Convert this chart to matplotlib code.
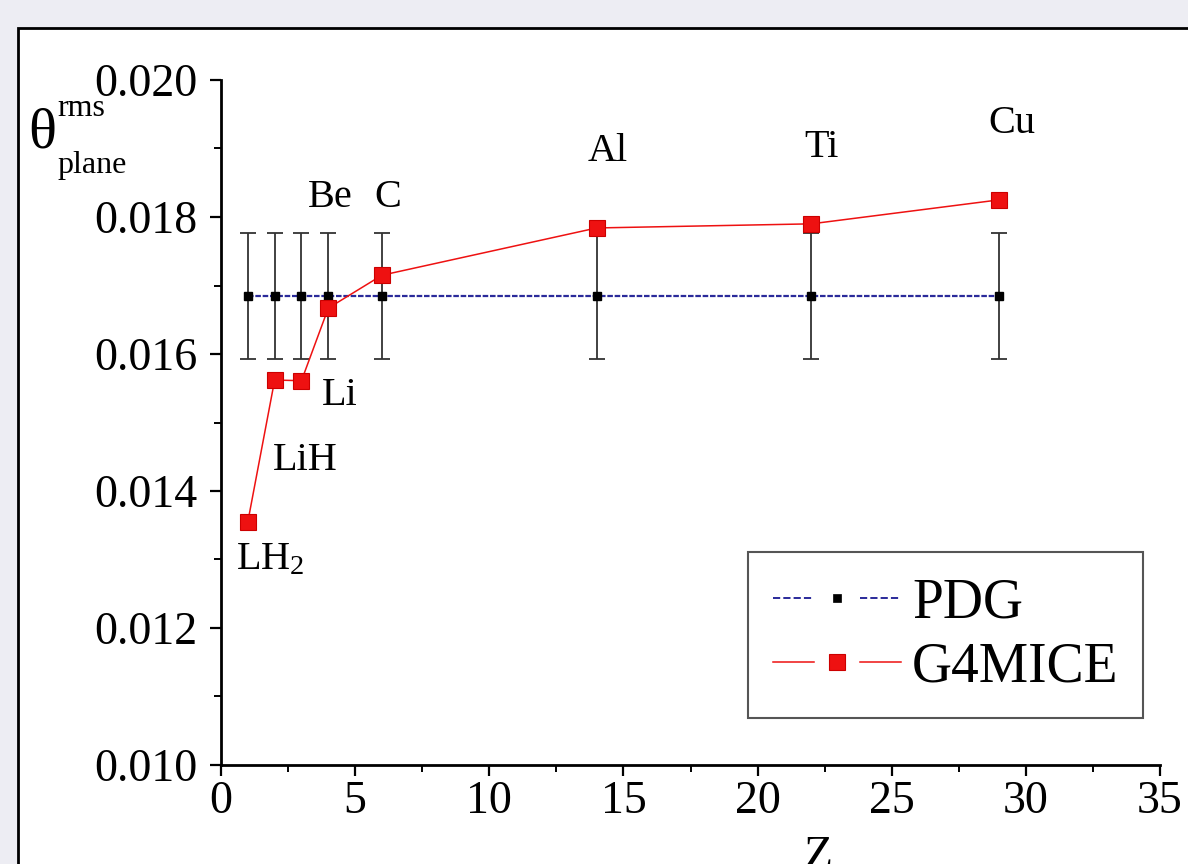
import numpy as np
import matplotlib
matplotlib.use("Agg")
import matplotlib.pyplot as plt
from matplotlib.lines import Line2D
from matplotlib.patches import Rectangle
from matplotlib.ticker import MultipleLocator, FormatStrFormatter
from matplotlib.legend_handler import HandlerBase

# ---------- DATA ----------
z_values = [1, 2, 3, 4, 6, 14, 22, 29]
materials = ["LH$_2$", "LiH", "Li", "Be", "C", "Al", "Ti", "Cu"]
pdg_theta = [0.01685] * 8
pdg_err = [0.00092] * 8
g4mice_theta = [0.01355, 0.01562, 0.01561, 0.01667, 0.01715, 0.01784, 0.01790, 0.01825]

# label anchor positions (data coords) for the material names
label_x = [1.83, 3.13, 4.44, 4.06, 6.22, 14.42, 22.4, 29.48]
label_y = [0.01299, 0.01445, 0.01540, 0.01829, 0.01829, 0.01895, 0.01902, 0.01937]

# ---------- STYLE ----------
plt.rcParams["font.family"] = ["Liberation Serif", "DejaVu Serif"]
plt.rcParams["mathtext.fontset"] = "custom"
plt.rcParams["mathtext.rm"] = "Liberation Serif"
plt.rcParams["mathtext.it"] = "Liberation Serif:italic"
plt.rcParams["mathtext.default"] = "regular"

BG = "#ededf3"
RED = "#ee1111"
BLUE = "#2a2a9a"


class GapLineHandler(HandlerBase):
    # Origin-style legend key: line segment, marker, line segment
    def create_artists(self, legend, orig_handle, xdescent, ydescent,
                       width, height, fontsize, trans):
        x0 = -xdescent
        x1 = x0 + width
        y = height / 2 - ydescent
        seg = 0.32 * width
        kw = dict(color=orig_handle.get_color(), lw=orig_handle.get_linewidth(),
                  linestyle=orig_handle.get_linestyle(), transform=trans)
        left = Line2D([x0, x0 + seg], [y, y], **kw)
        right = Line2D([x1 - seg, x1], [y, y], **kw)
        mark = Line2D([(x0 + x1) / 2], [y], linestyle="none",
                      marker=orig_handle.get_marker(),
                      ms=orig_handle.get_markersize(),
                      mfc=orig_handle.get_markerfacecolor(),
                      mec=orig_handle.get_markeredgecolor(),
                      mew=orig_handle.get_markeredgewidth(), transform=trans)
        return [left, right, mark]


fig = plt.figure(figsize=(11.88, 8.64), dpi=100, facecolor=BG)

# white panel with black border (runs off the right/bottom edge)
panel = Rectangle((18 / 1188, -0.1), 1.2, 1.1 - 28 / 864,
                  transform=fig.transFigure, facecolor="white",
                  edgecolor="black", linewidth=2, zorder=-5)
fig.patches.append(panel)

ax = fig.add_axes([221 / 1188, 1 - 765 / 864, (1160 - 221) / 1188, (765 - 80) / 864])
ax.set_facecolor("white")
ax.patch.set_alpha(0)

# PDG with error bars
ax.errorbar(z_values, pdg_theta, yerr=pdg_err, fmt="none", ecolor="#333333",
            elinewidth=1.3, capsize=5.5, capthick=1.3, zorder=2)
ax.plot(z_values, pdg_theta, color=BLUE, lw=1.6, linestyle=(0, (2.5, 0.8)), zorder=3)
ax.plot(z_values, pdg_theta, linestyle="none", marker="s", ms=5.5,
        color="black", zorder=4)

# G4MICE
ax.plot(z_values, g4mice_theta, color=RED, lw=1.1, zorder=5)
ax.plot(z_values, g4mice_theta, linestyle="none", marker="s", ms=11.5,
        mfc=RED, mec="#cc0000", mew=0.8, zorder=6)

for name, lx, ly in zip(materials, label_x, label_y):
    ax.text(lx, ly, name, fontsize=29, ha="center", va="center", zorder=7)

# axes formatting
ax.set_xlim(0, 35)
ax.set_ylim(0.010, 0.020)
ax.xaxis.set_major_locator(MultipleLocator(5))
ax.xaxis.set_minor_locator(MultipleLocator(2.5))
ax.yaxis.set_major_locator(MultipleLocator(0.002))
ax.yaxis.set_minor_locator(MultipleLocator(0.001))
ax.yaxis.set_major_formatter(FormatStrFormatter("%.3f"))

for side in ["top", "right"]:
    ax.spines[side].set_visible(False)
for side in ["left", "bottom"]:
    ax.spines[side].set_linewidth(2)

ax.tick_params(which="major", direction="out", length=8, width=1.6, labelsize=33)
ax.tick_params(which="minor", direction="out", length=5, width=1.4)
ax.tick_params(axis="y", which="major", pad=9)
ax.tick_params(axis="x", which="major", pad=3)

# y label: theta with rms / plane
fig.text(42 / 1188, 1 - 133 / 864, "\u03b8", fontsize=42, ha="center", va="center")
fig.text(57 / 1188, 1 - 108 / 864, "rms", fontsize=23, ha="left", va="center")
fig.text(57 / 1188, 1 - 165 / 864, "plane", fontsize=23, ha="left", va="center")

# x label (partly cut off at the bottom)
fig.text(818 / 1188, 1 - 836 / 864, "Z", fontsize=34, ha="center", va="top")

# legend
pdg_key = Line2D([], [], color=BLUE, lw=1.4, linestyle=(0, (2.2, 0.8)),
                 marker="s", ms=6, mfc="black", mec="black", mew=0.5)
g4_key = Line2D([], [], color=RED, lw=1.1, linestyle="-",
                marker="s", ms=12, mfc=RED, mec="#cc0000", mew=0.8)

leg = fig.legend([pdg_key, g4_key], ["PDG", "G4MICE"],
                 handler_map={Line2D: GapLineHandler()},
                 loc="upper left", bbox_to_anchor=(748 / 1188, 1 - 552 / 864),
                 fontsize=40, handlelength=2.3, handletextpad=0.2,
                 borderpad=0.45, labelspacing=0.22, borderaxespad=0,
                 fancybox=False, framealpha=1, edgecolor="#555555")
leg.get_frame().set_linewidth(1.5)

fig.savefig("out.png", dpi=100, facecolor=BG)
